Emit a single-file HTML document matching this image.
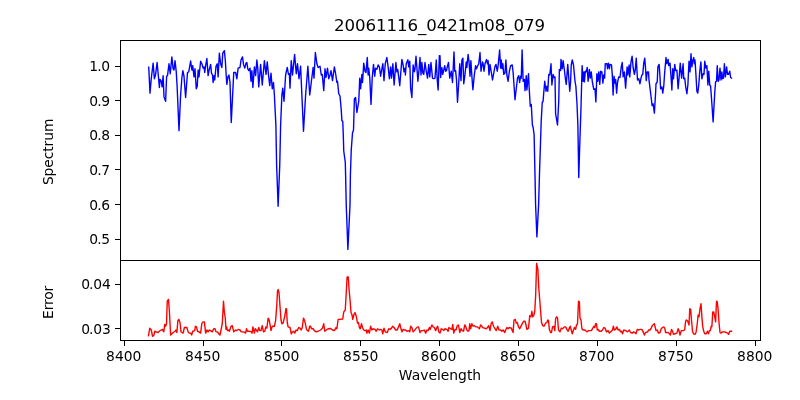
<!DOCTYPE html>
<html lang="en">
<head>
<meta charset="utf-8">
<title>20061116_0421m08_079</title>
<style>
html,body{margin:0;padding:0;background:#fff;overflow:hidden}
svg{display:block}
text{font-family:"DejaVu Sans","Liberation Sans",sans-serif;fill:#000;font-size:13.889px}
.t{font-size:16.667px}
.sp{fill:#000;shape-rendering:crispEdges}
.ln{fill:none;stroke-width:1.39;stroke-linejoin:round;stroke-linecap:square}
</style>
</head>
<body>
<svg width="800" height="400" viewBox="0 0 800 400">
<rect x="0" y="0" width="800" height="400" fill="#fff"/>
<!-- spectrum -->
<svg x="120" y="40" width="641" height="221" viewBox="120 40 641 221" overflow="hidden"><polyline class="ln" stroke="#0000ff" points="148.75,67.25 150.00,93.12 151.25,78.75 153.12,63.12 154.38,78.75 155.62,74.38 157.12,62.50 158.75,80.00 159.38,87.50 160.00,79.38 161.25,81.25 162.12,86.88 163.12,75.62 164.00,96.88 165.62,101.25 166.62,76.25 167.50,75.62 169.00,63.75 170.25,73.75 171.88,56.88 173.12,68.75 174.00,70.00 175.00,60.62 176.25,71.88 177.12,86.25 179.00,130.62 180.62,95.00 181.88,77.50 182.88,70.62 184.00,76.25 185.62,97.50 187.50,72.50 188.75,71.88 190.62,61.00 191.88,70.00 192.75,65.62 194.00,76.88 195.00,68.75 196.25,88.75 197.25,86.25 198.12,70.00 199.00,76.88 200.62,61.25 201.88,63.75 203.12,68.12 204.00,66.88 204.75,72.50 205.62,65.62 206.88,58.50 208.12,75.62 209.00,70.62 210.62,64.38 211.50,73.12 212.50,75.00 213.12,82.50 214.00,75.62 214.75,80.00 216.00,66.25 217.25,63.75 218.12,76.88 219.38,53.12 220.62,63.75 221.88,67.50 222.75,53.12 224.38,50.62 225.38,61.25 226.25,76.25 226.88,84.38 227.88,76.88 229.00,75.00 230.00,82.50 231.25,122.50 233.75,72.50 235.62,72.50 236.88,78.75 238.12,68.12 240.00,67.50 241.00,60.00 242.50,56.88 243.50,64.38 244.75,68.12 246.00,63.12 246.88,62.50 247.75,68.75 248.75,70.62 250.00,68.12 251.00,81.25 251.88,70.62 252.88,87.50 254.38,66.88 255.62,75.62 256.88,60.00 257.75,68.12 258.75,86.88 260.62,64.38 262.25,85.00 264.38,60.62 266.00,74.38 267.25,61.88 268.50,75.00 269.75,85.62 271.00,73.12 272.25,88.75 273.50,82.50 274.38,95.00 275.88,125.00 276.62,165.00 278.12,206.25 279.75,165.00 280.62,125.00 281.88,95.00 282.75,88.12 284.00,101.25 285.62,75.00 287.25,67.50 288.50,74.38 289.38,73.75 290.00,88.12 291.25,60.62 292.50,75.00 294.62,54.38 296.25,73.75 297.50,63.75 299.00,78.75 300.62,66.25 301.88,95.00 303.50,131.25 305.62,95.00 307.88,66.25 309.75,95.00 311.25,82.50 313.12,67.50 314.00,78.12 315.38,52.50 316.88,63.75 318.12,67.50 320.00,66.25 321.25,75.00 322.25,74.38 323.75,90.62 325.00,68.75 326.00,77.50 327.50,68.12 328.75,78.75 330.00,75.00 331.00,70.62 332.50,80.62 334.38,66.88 335.62,73.75 336.88,82.50 337.50,81.25 338.75,93.75 340.00,96.00 341.25,110.00 341.90,120.60 342.75,121.25 343.30,135.00 343.75,151.00 345.30,162.50 345.60,175.00 346.25,205.00 347.90,249.40 350.00,205.00 350.40,175.00 351.25,150.00 352.50,133.00 353.50,130.00 354.40,98.75 355.60,97.50 356.90,112.50 358.75,101.25 359.75,78.12 360.62,88.75 361.88,74.38 362.50,82.50 363.75,63.12 365.00,71.25 366.00,72.50 367.25,57.50 368.12,75.00 368.75,68.12 369.75,77.50 371.00,104.38 372.25,77.50 373.50,64.38 374.75,76.25 375.62,68.12 376.88,69.38 378.12,65.00 379.38,66.88 380.62,76.25 381.88,68.75 382.88,63.75 384.00,80.62 385.25,63.75 386.88,57.50 388.12,66.88 389.38,78.75 390.62,66.88 391.50,78.12 392.88,63.75 394.12,85.00 395.88,62.50 396.88,71.88 397.75,69.38 398.75,77.50 399.75,85.62 401.00,70.00 401.88,59.38 403.12,65.00 404.00,71.88 405.00,68.12 405.38,75.00 406.25,63.75 407.88,59.75 408.75,66.88 409.75,61.25 410.62,88.12 411.88,97.50 413.12,65.00 414.38,71.88 415.00,68.75 416.00,56.25 416.88,67.50 417.88,81.25 419.00,70.00 420.00,57.50 421.00,75.00 421.88,62.50 422.88,73.12 423.75,74.38 425.00,62.50 426.25,71.25 427.50,78.12 428.75,64.38 429.75,76.88 431.00,62.50 432.50,78.12 433.75,78.75 435.00,78.12 436.25,60.00 437.25,80.00 438.12,90.00 439.38,55.62 440.00,55.62 440.62,77.50 441.88,67.50 442.75,74.38 443.75,70.00 444.75,65.62 445.62,71.25 446.50,70.62 447.25,66.88 448.50,62.50 449.75,78.12 451.25,71.25 452.50,82.50 454.00,51.88 454.75,71.25 455.62,70.62 456.50,80.00 457.50,102.25 458.75,82.50 459.75,63.75 461.00,80.62 461.88,60.00 462.88,58.12 463.75,83.75 465.00,74.38 466.25,61.88 466.88,67.50 468.12,54.38 469.00,61.25 470.00,76.25 470.88,60.62 471.88,76.25 472.88,89.75 474.38,74.38 475.62,65.62 476.50,68.75 477.50,66.25 478.75,63.75 480.00,52.50 481.00,71.25 482.50,61.88 483.12,63.75 484.00,71.25 485.00,63.75 486.50,59.38 487.50,63.75 488.12,60.62 489.00,75.00 490.00,64.38 491.25,71.88 492.50,80.00 493.75,73.12 495.00,66.25 496.00,64.38 497.25,71.25 498.12,65.62 499.62,50.00 500.62,68.12 501.25,60.00 502.12,68.75 502.88,63.75 503.75,74.38 505.00,73.12 505.88,60.00 506.88,75.00 508.12,81.25 509.38,71.25 510.62,65.62 512.25,65.00 513.12,72.50 514.00,85.00 515.00,99.75 516.25,88.75 517.50,78.12 518.75,75.62 519.62,82.50 520.62,76.25 521.25,78.12 522.12,50.00 523.12,81.25 524.38,79.38 525.00,90.62 526.25,75.62 526.88,90.00 528.50,73.75 529.00,85.00 530.25,106.25 531.25,104.40 532.40,125.00 533.10,127.20 534.10,134.50 535.00,175.00 535.60,205.00 536.90,236.90 538.60,205.00 539.60,170.00 541.25,120.00 542.25,102.50 543.10,101.25 543.75,92.50 544.75,81.25 546.00,91.25 546.88,86.25 547.75,91.25 548.75,74.38 549.75,75.00 551.00,63.75 551.88,85.00 553.12,74.38 554.00,77.50 555.00,76.88 555.62,113.75 557.50,125.00 558.75,101.25 559.38,69.38 560.62,70.62 561.00,59.38 562.25,68.75 563.12,60.62 564.38,70.00 565.38,78.75 566.25,84.38 567.75,64.38 569.00,81.25 569.75,91.25 570.62,81.25 571.25,65.00 572.25,60.00 573.50,65.00 575.00,81.25 575.88,86.25 577.00,103.75 577.88,125.00 578.75,177.50 579.75,145.00 581.00,107.50 582.12,65.62 583.12,81.25 584.00,71.88 584.38,81.88 585.38,71.25 586.25,71.88 587.25,67.50 588.12,81.25 589.38,69.38 590.25,78.12 591.25,71.88 592.25,81.25 593.75,89.38 595.00,88.75 595.88,101.88 596.88,73.75 597.75,81.25 598.75,71.88 599.75,84.38 600.62,71.25 601.88,71.88 602.88,83.12 603.75,75.00 604.62,78.12 605.25,63.75 606.88,63.75 607.50,68.75 608.38,63.12 609.38,68.75 610.00,64.38 611.50,65.00 612.25,74.38 613.12,95.00 614.00,76.25 615.00,83.12 615.62,79.38 616.62,93.12 617.50,82.50 618.75,76.88 620.00,77.50 621.25,66.88 622.25,62.50 623.12,76.88 624.38,71.88 625.62,88.12 627.12,66.88 627.88,75.00 629.12,65.00 629.75,76.88 631.00,61.88 632.12,56.25 633.12,67.50 634.38,74.38 635.25,70.00 636.25,58.12 637.50,80.00 638.75,78.75 640.00,83.75 641.00,78.12 641.88,75.00 642.75,74.38 643.75,63.12 644.75,58.12 645.62,69.38 646.25,80.62 647.25,71.88 648.50,71.88 649.00,80.00 650.00,88.12 651.00,96.25 652.12,105.62 653.12,103.75 654.38,113.12 655.62,92.50 656.00,83.75 657.25,81.88 657.88,66.88 659.12,64.38 660.00,76.88 660.62,88.75 661.88,86.88 662.75,93.12 663.75,86.25 664.62,73.12 666.00,57.50 666.88,63.75 668.12,59.38 668.75,65.62 670.00,63.12 671.00,76.25 671.88,90.00 672.75,68.75 673.50,78.75 674.75,64.38 675.62,70.62 676.88,70.00 678.12,88.75 679.38,74.38 680.25,63.12 681.62,78.12 683.12,63.75 683.75,78.75 684.75,78.12 685.62,86.25 686.88,93.75 687.88,85.00 689.00,61.25 690.00,71.88 691.00,53.75 691.88,66.88 692.75,60.62 693.75,57.50 694.38,63.75 695.00,60.00 695.88,73.75 696.88,91.25 697.75,93.12 698.75,85.00 699.75,71.88 700.88,61.88 701.88,78.75 703.12,73.75 704.00,74.38 704.75,61.25 705.88,68.12 706.88,65.62 707.88,85.00 708.75,71.25 709.75,85.00 710.62,86.25 711.88,103.75 713.12,121.88 714.75,92.50 715.62,81.88 716.50,81.25 717.25,65.62 718.12,81.25 719.00,80.00 720.00,68.12 721.00,80.00 721.88,71.88 722.50,78.75 723.50,78.12 724.38,63.75 725.38,76.88 726.62,66.88 727.50,74.38 728.50,74.38 729.75,71.25 730.62,77.50 731.50,78.12"/></svg>
<!-- error -->
<svg x="120" y="260" width="641" height="81" viewBox="120 260 641 81" overflow="hidden"><polyline class="ln" stroke="#ff0000" points="148.50,335.62 149.75,328.12 151.25,330.00 152.50,336.25 153.75,335.62 154.75,331.25 156.25,331.88 158.12,332.50 160.00,330.62 161.25,330.00 162.50,329.38 163.75,331.88 164.75,324.38 165.62,326.25 166.50,323.75 167.25,301.25 168.50,299.38 169.38,311.25 170.62,335.00 171.88,333.75 173.12,332.50 175.00,331.25 176.00,330.00 176.88,332.50 177.88,320.62 178.75,319.38 180.00,322.50 181.00,331.88 182.25,332.50 183.12,333.12 184.38,327.50 186.88,327.50 188.12,331.88 189.38,333.12 190.62,333.12 191.62,335.00 192.75,331.25 194.75,330.62 195.38,326.25 196.50,326.88 197.50,331.25 199.00,331.88 200.62,333.12 201.88,323.12 203.12,321.88 204.38,321.88 205.62,333.12 206.88,330.00 208.12,331.88 209.38,330.00 210.62,330.62 212.25,331.88 213.75,328.75 215.00,328.75 216.00,331.88 217.50,331.88 218.75,333.75 220.00,335.00 221.25,328.75 222.25,323.75 223.50,301.25 224.38,312.50 225.25,317.50 226.00,329.38 226.62,326.88 227.50,330.62 229.00,330.00 229.38,331.25 231.00,326.25 232.25,325.62 233.75,331.88 235.62,330.00 236.88,330.62 238.12,329.38 240.00,330.00 241.25,331.88 243.75,331.88 245.62,333.12 246.50,328.75 247.50,331.25 249.38,331.25 251.25,331.88 252.12,333.12 252.88,326.88 254.38,333.12 255.25,328.75 256.25,330.00 257.50,331.88 258.75,327.50 259.75,330.62 261.00,330.62 262.25,325.62 263.50,331.88 264.75,331.25 265.88,326.88 266.88,328.12 268.12,318.12 269.00,319.38 270.00,324.38 271.00,330.62 272.25,326.25 274.38,326.25 275.62,320.62 276.88,303.75 277.50,291.25 278.12,289.38 279.00,292.50 280.00,306.25 281.00,320.00 281.88,323.75 283.12,323.12 284.00,319.38 285.00,315.00 285.88,308.75 286.50,308.75 287.25,322.50 288.12,326.88 290.00,327.50 291.25,333.75 292.50,331.88 293.75,331.25 294.75,333.12 296.00,330.00 297.25,330.62 298.75,327.50 300.00,328.12 301.25,330.00 302.25,327.50 303.50,318.12 304.38,320.00 305.25,323.12 306.50,329.38 307.50,330.62 308.50,331.25 309.75,326.25 310.62,326.25 311.50,328.75 313.12,328.75 314.38,330.62 316.25,331.88 318.12,331.25 320.62,330.00 322.50,328.12 323.75,323.75 324.75,331.25 326.25,330.00 328.12,328.75 330.62,328.50 332.50,330.00 334.38,330.62 336.00,327.50 336.88,328.75 338.12,319.38 340.00,319.38 342.75,319.00 343.75,311.88 345.25,310.00 346.25,292.50 347.12,276.88 348.25,276.88 349.12,290.00 350.25,302.50 351.00,312.50 351.88,314.38 352.75,319.38 353.75,315.00 355.00,312.50 356.25,316.25 357.50,323.12 358.50,322.50 359.38,327.50 360.25,328.75 361.50,323.75 362.50,327.50 363.75,330.00 365.00,330.62 366.25,330.00 366.88,333.12 368.12,330.00 369.38,333.12 370.62,326.25 371.88,330.00 373.12,328.75 375.00,329.38 376.25,331.25 377.50,328.75 379.38,330.00 380.62,329.38 381.88,330.00 382.75,333.75 384.00,328.12 385.25,331.88 387.25,332.50 388.75,328.75 390.00,329.38 391.50,328.12 392.75,326.25 394.00,327.50 395.62,330.00 397.25,330.00 398.75,326.25 399.75,323.75 400.62,327.50 401.88,331.88 403.12,329.38 404.38,330.00 405.62,330.00 406.88,331.25 408.75,330.62 409.75,331.88 410.62,326.25 411.88,327.50 413.12,331.88 414.38,330.62 416.25,328.12 417.50,326.88 418.50,326.88 420.00,332.50 421.25,330.62 423.12,330.62 424.38,330.00 425.62,333.12 426.88,330.00 428.12,330.62 429.38,327.50 430.25,329.38 431.88,325.00 433.12,326.88 434.38,327.50 435.62,330.62 436.88,327.50 437.75,326.25 438.75,331.88 440.00,333.12 441.25,328.75 442.50,329.38 443.75,330.62 445.00,328.75 446.88,329.38 448.12,331.25 449.00,327.50 450.62,328.75 451.88,329.38 452.75,324.38 453.75,333.12 455.00,329.38 456.00,330.00 457.25,325.62 458.50,325.00 459.75,332.50 461.00,328.75 462.25,330.62 463.50,331.25 464.75,325.00 465.62,326.25 466.88,330.00 468.12,331.25 469.00,330.62 469.75,323.75 470.62,328.75 471.88,323.75 473.12,326.25 474.38,325.62 475.62,326.88 477.50,326.88 479.38,328.75 480.62,325.00 481.50,325.62 482.50,327.50 484.38,328.12 486.25,328.75 487.50,327.50 488.75,325.62 490.00,330.62 491.25,323.12 492.25,321.88 493.50,326.25 495.00,328.75 496.25,330.62 497.75,326.25 499.00,330.00 500.62,330.00 501.88,331.25 503.12,330.00 504.75,332.50 505.62,330.00 506.88,327.50 508.12,328.75 509.38,327.50 511.25,328.12 513.12,332.50 514.00,320.00 515.25,319.38 516.25,323.12 517.25,322.50 518.50,326.88 519.75,328.75 521.25,325.62 522.50,323.12 523.75,321.25 525.00,321.25 526.00,325.00 526.88,329.38 528.50,328.12 529.75,315.62 531.00,316.88 531.88,311.25 532.75,316.88 533.75,315.62 534.75,311.25 535.62,296.25 536.62,263.50 537.88,269.38 538.75,287.50 540.62,311.25 541.50,322.50 542.75,325.62 544.00,326.25 545.62,323.12 546.88,322.50 547.75,320.00 548.50,320.62 549.38,329.38 550.62,332.50 551.50,332.50 552.50,326.88 553.75,326.25 554.75,330.62 555.62,318.75 556.50,316.88 557.50,317.50 558.50,330.00 560.00,331.88 561.25,328.12 562.50,328.75 564.38,326.88 565.62,326.88 566.88,329.38 568.12,331.25 569.38,328.12 570.25,326.25 571.25,330.00 572.25,333.75 573.50,330.00 574.38,327.50 575.62,329.38 576.50,325.00 577.50,323.75 578.50,301.25 579.38,301.88 580.00,318.12 581.00,320.00 581.88,328.75 583.12,330.00 585.00,330.00 586.88,331.88 588.50,330.62 589.75,330.62 591.25,330.62 592.50,328.75 593.75,326.25 594.75,327.50 595.62,323.75 596.50,323.75 597.25,330.00 598.12,329.38 599.38,331.25 601.25,331.25 602.50,330.00 603.75,327.50 605.00,328.12 606.50,331.88 608.12,330.62 609.38,333.12 611.25,331.25 612.50,330.00 613.38,326.25 614.38,330.00 615.62,329.38 616.88,326.88 618.12,330.00 619.38,329.38 620.62,331.88 621.50,331.25 622.50,333.75 623.75,330.00 625.62,330.62 627.50,331.88 629.38,330.00 630.62,332.50 632.25,333.12 633.75,331.88 634.75,332.50 636.00,333.75 637.25,329.38 638.75,330.00 640.00,329.38 641.88,329.38 643.12,331.88 644.38,335.00 645.62,332.50 647.50,331.88 648.75,330.00 650.00,330.00 651.25,328.12 652.25,325.62 653.50,324.38 654.38,323.75 655.25,327.50 656.00,330.62 657.25,330.00 658.50,333.12 660.00,332.50 661.25,328.75 662.50,327.50 663.75,326.88 664.75,328.12 665.62,332.50 666.88,332.50 668.12,332.50 669.38,333.75 670.38,335.00 671.50,329.38 672.50,331.25 673.50,334.38 675.00,333.75 676.88,333.12 678.12,328.75 679.00,330.62 680.00,335.00 681.25,330.62 682.50,330.62 683.75,330.62 684.75,329.38 685.62,321.25 686.50,320.00 687.75,321.25 689.00,325.00 689.75,308.75 690.62,309.38 691.50,320.00 692.50,331.25 693.50,333.75 695.00,334.38 696.00,332.50 697.25,323.75 698.12,315.00 699.00,316.88 700.00,308.75 701.00,303.75 701.88,316.88 702.75,326.88 703.75,331.25 704.75,333.75 706.25,333.75 707.50,331.25 708.50,333.75 709.38,330.62 710.25,330.62 711.25,326.25 711.88,326.88 712.75,311.88 713.75,311.88 714.75,316.88 715.62,321.88 716.50,301.25 717.25,301.88 718.12,309.38 719.00,322.50 720.00,332.50 721.00,333.12 722.50,331.88 724.38,331.88 726.25,332.50 727.50,333.12 728.50,334.38 729.75,331.25 731.50,331.25"/></svg>
<g class="sp">
<rect x="120" y="40" width="641" height="1"/>
<rect x="120" y="260" width="641" height="1"/>
<rect x="120" y="340" width="641" height="1"/>
<rect x="120" y="40" width="1" height="301"/>
<rect x="760" y="40" width="1" height="301"/>
<rect x="124" y="341" width="1" height="5"/>
<rect x="203" y="341" width="1" height="5"/>
<rect x="281" y="341" width="1" height="5"/>
<rect x="360" y="341" width="1" height="5"/>
<rect x="439" y="341" width="1" height="5"/>
<rect x="518" y="341" width="1" height="5"/>
<rect x="597" y="341" width="1" height="5"/>
<rect x="676" y="341" width="1" height="5"/>
<rect x="755" y="341" width="1" height="5"/>
<rect x="115" y="66" width="5" height="1"/>
<rect x="115" y="100" width="5" height="1"/>
<rect x="115" y="135" width="5" height="1"/>
<rect x="115" y="169" width="5" height="1"/>
<rect x="115" y="204" width="5" height="1"/>
<rect x="115" y="239" width="5" height="1"/>
<rect x="115" y="284" width="5" height="1"/>
<rect x="115" y="328" width="5" height="1"/>
</g>
<g style="opacity:0.999">
<text class="t" x="439.5" y="31.2" text-anchor="middle" style="letter-spacing:-0.1px">20061116_0421m08_079</text>
<text x="123.74" y="360.9" text-anchor="middle">8400</text>
<text x="202.74" y="360.9" text-anchor="middle">8450</text>
<text x="281.74" y="360.9" text-anchor="middle">8500</text>
<text x="360.74" y="360.9" text-anchor="middle">8550</text>
<text x="438.74" y="360.9" text-anchor="middle">8600</text>
<text x="517.74" y="360.9" text-anchor="middle">8650</text>
<text x="596.74" y="360.9" text-anchor="middle">8700</text>
<text x="675.74" y="360.9" text-anchor="middle">8750</text>
<text x="754.74" y="360.9" text-anchor="middle">8800</text>
<text x="110.2" y="71.00" dx="0 -1 -0.2" text-anchor="end">1.0</text>
<text x="110.2" y="106.00" dx="0 -1 -0.2" text-anchor="end">0.9</text>
<text x="110.2" y="140.00" dx="0 -1 -0.2" text-anchor="end">0.8</text>
<text x="110.2" y="175.00" dx="0 -1 -0.2" text-anchor="end">0.7</text>
<text x="110.2" y="210.00" dx="0 -1 -0.2" text-anchor="end">0.6</text>
<text x="110.2" y="244.00" dx="0 -1 -0.2" text-anchor="end">0.5</text>
<text x="110.85" y="289.00" dx="0 -1 -0.2" text-anchor="end">0.04</text>
<text x="110.85" y="334.00" dx="0 -1 -0.2" text-anchor="end">0.03</text>
<text x="440" y="380.3" text-anchor="middle">Wavelength</text>
<text transform="translate(53.2,151.9) rotate(-90)" text-anchor="middle" style="letter-spacing:-0.1px">Spectrum</text>
<text transform="translate(53.2,302.4) rotate(-90)" text-anchor="middle" style="letter-spacing:-0.15px">Error</text>
</g>
</svg>
</body>
</html>
